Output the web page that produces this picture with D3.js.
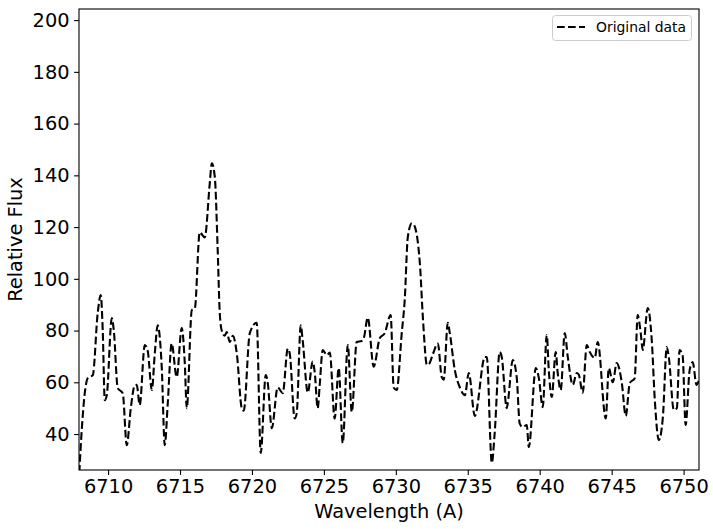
<!DOCTYPE html>
<html>
<head>
<meta charset="utf-8">
<script src="https://cdn.jsdelivr.net/npm/d3@7"></script>
<style>
  body { margin: 0; background: #fff; }
  svg { display: block; font-family: "DejaVu Sans", sans-serif; }
</style>
</head>
<body>
<script>
// spectrum
var wavelength = [6708.0, 6708.17, 6708.38, 6708.59, 6708.94, 6709.28, 6709.49, 6709.63, 6709.77, 6709.91,
  6710.26, 6710.40, 6710.67, 6711.02, 6711.30, 6711.58, 6711.86, 6711.99, 6712.20, 6712.55,
  6712.76, 6713.04, 6713.25, 6713.45, 6713.73, 6713.94, 6714.15, 6714.42, 6714.77, 6715.12,
  6715.33, 6715.47, 6715.82, 6716.03, 6716.37, 6716.72, 6717.07, 6717.21, 6717.42, 6717.62,
  6717.76, 6717.90, 6718.11, 6718.25, 6718.46, 6718.67, 6718.95, 6719.29, 6719.43, 6719.85,
  6720.33, 6720.61, 6720.96, 6721.10, 6721.38, 6721.79, 6722.14, 6722.49, 6722.63, 6722.97,
  6723.11, 6723.39, 6723.53, 6723.88, 6724.22, 6724.36, 6724.57, 6724.71, 6724.92, 6725.20,
  6725.41, 6725.75, 6726.03, 6726.31, 6726.66, 6726.94, 6727.28, 6727.63, 6727.77, 6728.05,
  6728.46, 6728.88, 6729.23, 6729.64, 6729.85, 6730.06, 6730.41, 6730.62, 6730.83, 6731.11,
  6731.25, 6731.67, 6731.88, 6732.16, 6732.30, 6732.58, 6732.92, 6733.19, 6733.33, 6733.61,
  6733.75, 6734.10, 6734.45, 6734.80, 6735.07, 6735.49, 6736.19, 6736.32, 6736.67, 6736.87,
  6737.22, 6737.36, 6737.71, 6737.78, 6738.13, 6738.40, 6738.61, 6738.82, 6739.10, 6739.24,
  6739.73, 6739.94, 6740.21, 6740.49, 6740.63, 6740.84, 6741.11, 6741.25, 6741.46, 6741.74,
  6741.95, 6742.30, 6742.57, 6742.71, 6742.99, 6743.27, 6743.48, 6743.83, 6744.03, 6744.59,
  6744.80, 6745.08, 6745.35, 6745.70, 6745.98, 6746.26, 6746.60, 6746.81, 6747.02, 6747.16,
  6747.51, 6747.79, 6748.00, 6748.28, 6748.56, 6748.83, 6748.97, 6749.32, 6749.53, 6749.72,
  6749.93, 6750.14, 6750.42, 6750.63, 6750.90, 6751.07];

var flux = [25, 41.5, 55.8, 61.6, 62.8, 86.8, 93.7, 80, 53.1, 55,
  84.8, 80, 57.8, 55.8, 35.7, 50, 58.9, 59, 51.2, 74.4,
  72, 57, 71.3, 82, 65.9, 35.7, 52, 75, 62, 81,
  67.6, 50, 87.9, 88.6, 118, 116, 137, 144.7, 139.3, 111,
  87, 80, 78, 79.4, 75.6, 78, 71, 50, 49, 79,
  83, 32.7, 62.8, 59.7, 42.3, 58, 55.8, 73, 71, 46,
  48, 82, 76, 56, 68, 64, 50, 59, 72.5, 70.5,
  71.5, 46, 65.5, 36.5, 74.4, 48.5, 75.6, 76, 77, 85,
  66, 77, 79, 86, 58, 57, 79, 92, 116, 121.5,
  121, 106, 85, 66.7, 67, 71, 75, 62, 61, 83,
  79, 64.7, 58, 55, 63.6, 47, 69.8, 69.8, 28.8, 40.4,
  71.7, 69.8, 50, 52, 68.6, 62, 44, 42.7, 43.5, 35,
  65.5, 61.6, 50.4, 78.3, 64.7, 54.3, 71.7, 63.6, 57, 79,
  69.8, 59, 63.6, 63, 56, 74.4, 71.7, 69.4, 75.6, 46,
  65.5, 60, 67.4, 60, 47, 59.7, 61.6, 86, 79, 72.5,
  88.7, 76, 53, 37.7, 46.6, 73.6, 69.8, 49.3, 50, 72.5,
  70.5, 43.5, 64.7, 67.8, 59, 61];

var xTicks = [6710, 6715, 6720, 6725, 6730, 6735, 6740, 6745, 6750];
var yTicks = [40, 60, 80, 100, 120, 140, 160, 180, 200];
var legendLabel = "Original data";

var width = 713, height = 529;
var margin = {top: 9, right: 14, bottom: 59, left: 79};

var svg = d3.select("body").append("svg")
  .attr("width", width)
  .attr("height", height);

var x = d3.scaleLinear()
  .domain([6707.98, 6751.07])
  .range([margin.left, width - margin.right]);

var y = d3.scaleLinear()
  .domain([26.1, 204.3])
  .range([height - margin.bottom, margin.top]);

svg.append("clipPath").attr("id", "clip")
  .append("rect")
  .attr("x", margin.left).attr("y", margin.top)
  .attr("width", width - margin.left - margin.right)
  .attr("height", height - margin.top - margin.bottom);

var pts = wavelength.map(function(w, i) { return [w, flux[i]]; });

var line = d3.line()
  .x(function(d) { return x(d[0]); })
  .y(function(d) { return y(d[1]); })
  .curve(d3.curveMonotoneX);

svg.append("path")
  .datum(pts)
  .attr("clip-path", "url(#clip)")
  .attr("d", line)
  .attr("fill", "none")
  .attr("stroke", "#000")
  .attr("stroke-width", 2.1)
  .attr("stroke-dasharray", "7.7,3.3");

// axes
var xAxis = svg.append("g")
  .attr("transform", "translate(0," + (height - margin.bottom) + ")")
  .call(d3.axisBottom(x).tickValues(xTicks).tickFormat(d3.format("d")).tickSize(4.9).tickPadding(4.5));

var yAxis = svg.append("g")
  .attr("transform", "translate(" + margin.left + ",0)")
  .call(d3.axisLeft(y).tickValues(yTicks).tickFormat(d3.format("d")).tickSize(4.9).tickPadding(4.5));

[xAxis, yAxis].forEach(function(g) {
  g.select(".domain").remove();
  g.selectAll(".tick line").attr("stroke", "#000").attr("stroke-width", 1.1);
  g.selectAll(".tick text")
    .attr("fill", "#000")
    .style("font-size", "19.4px")
    .style("font-family", "DejaVu Sans");
});

// frame
svg.append("rect")
  .attr("x", margin.left).attr("y", margin.top)
  .attr("width", width - margin.left - margin.right)
  .attr("height", height - margin.top - margin.bottom)
  .attr("fill", "none")
  .attr("stroke", "#000")
  .attr("stroke-width", 1.1);

// axis labels
svg.append("text")
  .attr("x", (margin.left + width - margin.right) / 2)
  .attr("y", 518)
  .attr("text-anchor", "middle")
  .style("font-size", "19.4px")
  .text("Wavelength (A)");

svg.append("text")
  .attr("transform", "translate(22," + ((margin.top + height - margin.bottom) / 2) + ") rotate(-90)")
  .attr("text-anchor", "middle")
  .style("font-size", "19.4px")
  .text("Relative Flux");

// legend
var lg = svg.append("g");
lg.append("rect")
  .attr("x", 552.5).attr("y", 15.5)
  .attr("width", 139).attr("height", 25)
  .attr("rx", 3)
  .attr("fill", "#fff")
  .attr("stroke", "#ccc")
  .attr("stroke-width", 1);
lg.append("line")
  .attr("x1", 557).attr("x2", 585)
  .attr("y1", 27).attr("y2", 27)
  .attr("stroke", "#000")
  .attr("stroke-width", 2.1)
  .attr("stroke-dasharray", "7.7,3.3");
lg.append("text")
  .attr("x", 596).attr("y", 32)
  .style("font-size", "13.9px")
  .text(legendLabel);
</script>
</body>
</html>
